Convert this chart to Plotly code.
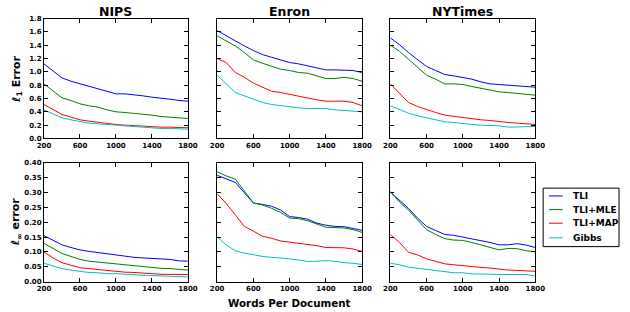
import plotly.graph_objects as go

words = [200, 300, 400, 500, 600, 700, 800, 900, 1000, 1100, 1200, 1300, 1400, 1500, 1600, 1700, 1800]
datasets = ["NIPS", "Enron", "NYTimes"]
methods = ["TLI", "TLI+MLE", "TLI+MAP", "Gibbs"]
colors = ["#0000ff", "#008000", "#ff0000", "#00bfbf"]

# l1 error (top row)
nips_l1_tli = [1.12, 1.02, 0.91, 0.86, 0.82, 0.79, 0.75, 0.71, 0.67, 0.67, 0.66, 0.64, 0.62, 0.61, 0.59, 0.57, 0.56]
nips_l1_mle = [0.82, 0.72, 0.61, 0.57, 0.52, 0.49, 0.47, 0.43, 0.40, 0.39, 0.38, 0.37, 0.35, 0.33, 0.32, 0.31, 0.30]
nips_l1_map = [0.51, 0.43, 0.36, 0.32, 0.28, 0.26, 0.24, 0.22, 0.21, 0.20, 0.19, 0.19, 0.18, 0.17, 0.17, 0.16, 0.16]
nips_l1_gibbs = [0.43, 0.37, 0.31, 0.28, 0.25, 0.23, 0.22, 0.21, 0.20, 0.18, 0.17, 0.16, 0.16, 0.15, 0.15, 0.14, 0.14]

enron_l1_tli = [1.62, 1.54, 1.46, 1.39, 1.32, 1.26, 1.22, 1.18, 1.14, 1.12, 1.09, 1.06, 1.03, 1.03, 1.03, 1.02, 0.99]
enron_l1_mle = [1.54, 1.47, 1.39, 1.29, 1.18, 1.13, 1.08, 1.04, 1.02, 0.99, 0.98, 0.94, 0.90, 0.90, 0.92, 0.90, 0.86]
enron_l1_map = [1.20, 1.14, 0.99, 0.92, 0.83, 0.77, 0.71, 0.69, 0.66, 0.63, 0.60, 0.58, 0.56, 0.56, 0.56, 0.54, 0.49]
enron_l1_gibbs = [0.95, 0.82, 0.69, 0.64, 0.59, 0.54, 0.51, 0.49, 0.48, 0.46, 0.45, 0.45, 0.45, 0.43, 0.42, 0.41, 0.40]

nyt_l1_tli = [1.51, 1.41, 1.29, 1.19, 1.08, 1.02, 0.96, 0.94, 0.92, 0.89, 0.85, 0.82, 0.81, 0.80, 0.78, 0.77, 0.77]
nyt_l1_mle = [1.40, 1.31, 1.19, 1.07, 0.95, 0.89, 0.82, 0.82, 0.81, 0.78, 0.75, 0.72, 0.70, 0.69, 0.68, 0.67, 0.65]
nyt_l1_map = [0.82, 0.68, 0.54, 0.48, 0.43, 0.39, 0.35, 0.33, 0.31, 0.29, 0.28, 0.27, 0.25, 0.24, 0.23, 0.22, 0.21]
nyt_l1_gibbs = [0.49, 0.43, 0.38, 0.34, 0.31, 0.28, 0.25, 0.24, 0.22, 0.21, 0.20, 0.20, 0.19, 0.17, 0.17, 0.17, 0.18]

# l-infinity error (bottom row)
nips_linf_tli = [0.155, 0.140, 0.124, 0.115, 0.107, 0.102, 0.098, 0.094, 0.089, 0.085, 0.082, 0.080, 0.078, 0.077, 0.075, 0.070, 0.069]
nips_linf_mle = [0.129, 0.113, 0.095, 0.085, 0.075, 0.069, 0.066, 0.063, 0.060, 0.055, 0.054, 0.050, 0.047, 0.045, 0.044, 0.042, 0.039]
nips_linf_map = [0.100, 0.080, 0.064, 0.055, 0.047, 0.044, 0.041, 0.036, 0.034, 0.032, 0.031, 0.030, 0.027, 0.025, 0.025, 0.024, 0.024]
nips_linf_gibbs = [0.062, 0.053, 0.044, 0.039, 0.034, 0.031, 0.030, 0.027, 0.027, 0.024, 0.023, 0.022, 0.021, 0.020, 0.019, 0.016, 0.016]

enron_linf_tli = [0.358, 0.347, 0.334, 0.299, 0.265, 0.260, 0.254, 0.241, 0.219, 0.216, 0.210, 0.197, 0.190, 0.186, 0.185, 0.179, 0.173]
enron_linf_mle = [0.370, 0.356, 0.345, 0.307, 0.265, 0.258, 0.247, 0.233, 0.214, 0.212, 0.205, 0.194, 0.183, 0.182, 0.181, 0.175, 0.166]
enron_linf_map = [0.296, 0.263, 0.225, 0.186, 0.170, 0.153, 0.146, 0.137, 0.133, 0.129, 0.126, 0.121, 0.115, 0.115, 0.114, 0.110, 0.102]
enron_linf_gibbs = [0.150, 0.124, 0.104, 0.096, 0.091, 0.085, 0.082, 0.080, 0.077, 0.073, 0.068, 0.069, 0.071, 0.069, 0.064, 0.062, 0.058]

nyt_linf_tli = [0.301, 0.274, 0.247, 0.214, 0.186, 0.172, 0.159, 0.156, 0.150, 0.145, 0.139, 0.132, 0.124, 0.124, 0.128, 0.123, 0.115]
nyt_linf_mle = [0.304, 0.268, 0.241, 0.208, 0.175, 0.159, 0.145, 0.140, 0.139, 0.132, 0.124, 0.117, 0.107, 0.112, 0.111, 0.104, 0.101]
nyt_linf_map = [0.159, 0.132, 0.099, 0.090, 0.077, 0.069, 0.060, 0.057, 0.054, 0.049, 0.048, 0.046, 0.042, 0.039, 0.038, 0.036, 0.035]
nyt_linf_gibbs = [0.062, 0.057, 0.049, 0.045, 0.041, 0.036, 0.033, 0.030, 0.030, 0.026, 0.026, 0.024, 0.024, 0.024, 0.024, 0.024, 0.019]

x_ticks = [200, 600, 1000, 1400, 1800]
l1_ticks = [0.0, 0.2, 0.4, 0.6, 0.8, 1.0, 1.2, 1.4, 1.6, 1.8]
linf_ticks = [0.00, 0.05, 0.10, 0.15, 0.20, 0.25, 0.30, 0.35, 0.40]

panels = [
    [nips_l1_tli, nips_l1_mle, nips_l1_map, nips_l1_gibbs],
    [enron_l1_tli, enron_l1_mle, enron_l1_map, enron_l1_gibbs],
    [nyt_l1_tli, nyt_l1_mle, nyt_l1_map, nyt_l1_gibbs],
    [nips_linf_tli, nips_linf_mle, nips_linf_map, nips_linf_gibbs],
    [enron_linf_tli, enron_linf_mle, enron_linf_map, enron_linf_gibbs],
    [nyt_linf_tli, nyt_linf_mle, nyt_linf_map, nyt_linf_gibbs],
]

W, H = 630, 312
col_px = [(38, 186), (216, 365), (394, 543)]
row_px = [(15, 138), (163, 285)]

FONT = "DejaVu Sans"
fig = go.Figure()
layout = {}
for i, series in enumerate(panels):
    r, c = divmod(i, 3)
    n = i + 1
    xa = "x" if n == 1 else f"x{n}"
    ya = "y" if n == 1 else f"y{n}"
    for k, vals in enumerate(series):
        fig.add_trace(go.Scatter(
            x=words, y=vals, mode="lines", name=methods[k],
            line=dict(color=colors[k], width=1),
            xaxis=xa, yaxis=ya, showlegend=False,
        ))
    x0, x1 = col_px[c]
    y0, y1 = row_px[r]
    xkey = "xaxis" if n == 1 else f"xaxis{n}"
    ykey = "yaxis" if n == 1 else f"yaxis{n}"
    layout[xkey] = dict(
        domain=[x0 / W, x1 / W], anchor=ya, range=[200, 1800],
        tickvals=x_ticks, ticktext=[str(v) for v in x_ticks],
        ticks="inside", ticklen=4, tickcolor="black", mirror="ticks",
        showline=True, linecolor="black", linewidth=1, showgrid=False, zeroline=False,
        tickfont=dict(family=FONT, size=7, color="black", weight="bold"),
    )
    yt = l1_ticks if r == 0 else linf_ticks
    layout[ykey] = dict(
        domain=[1 - y1 / H, 1 - y0 / H], anchor=xa,
        range=[0, 1.8] if r == 0 else [0, 0.40],
        tickvals=yt,
        ticktext=[f"{v:.1f}" for v in yt] if r == 0 else [f"{v:.2f}" for v in yt],
        showticklabels=(c == 0),
        ticks="inside", ticklen=4, tickcolor="black", mirror="ticks",
        showline=True, linecolor="black", linewidth=1, showgrid=False, zeroline=False,
        tickfont=dict(family=FONT, size=7, color="black", weight="bold"),
    )

annotations = []
for c, name in enumerate(datasets):
    x0, x1 = col_px[c]
    annotations.append(dict(
        text=name, x=(x0 + x1) / 2 / W, y=1 - 7.5 / H, xref="paper", yref="paper",
        showarrow=False, xanchor="center", yanchor="middle", borderpad=0,
        font=dict(family=FONT, size=12.5, color="black", weight="bold"),
    ))
annotations.append(dict(
    text="ℓ<sub>1</sub> Error", x=10 / W, y=1 - 77 / H, xref="paper", yref="paper",
    showarrow=False, textangle=-90, xanchor="center", yanchor="middle",
    font=dict(family=FONT, size=11, color="black", weight="bold"),
))
annotations.append(dict(
    text="ℓ<sub>∞</sub> error", x=10 / W, y=1 - 224 / H, xref="paper", yref="paper",
    showarrow=False, textangle=-90, xanchor="center", yanchor="middle",
    font=dict(family=FONT, size=11, color="black", weight="bold"),
))
annotations.append(dict(
    text="Words Per Document", x=290 / W, y=1 - 306.5 / H, xref="paper", yref="paper",
    showarrow=False, xanchor="center", yanchor="middle", borderpad=0,
    font=dict(family=FONT, size=10.3, color="black", weight="bold"),
))

# legend box drawn by hand to match compact matplotlib legend
shapes = [dict(type="rect", xref="paper", yref="paper",
               x0=551 / W, x1=629 / W, y0=1 - 249 / H, y1=1 - 189 / H,
               line=dict(color="black", width=1), fillcolor="white", layer="above")]
leg_y = [197, 211, 225, 240]
for k, m in enumerate(methods):
    yy = 1 - leg_y[k] / H
    shapes.append(dict(type="line", xref="paper", yref="paper",
                       x0=557 / W, x1=571 / W, y0=yy, y1=yy,
                       line=dict(color=colors[k], width=1), layer="above"))
    annotations.append(dict(
        text=m, x=581 / W, y=yy, xref="paper", yref="paper",
        showarrow=False, xanchor="left", yanchor="middle", borderpad=0,
        font=dict(family=FONT, size=9, color="black", weight="bold"),
    ))

fig.update_layout(
    width=W, height=H, margin=dict(l=0, r=0, t=0, b=0),
    paper_bgcolor="white", plot_bgcolor="white",
    annotations=annotations, shapes=shapes, showlegend=False,
    **layout,
)
fig.write_html("out.html", config={"displayModeBar": False},
               post_script="document.body.style.margin='0';document.body.style.overflow='hidden';")
